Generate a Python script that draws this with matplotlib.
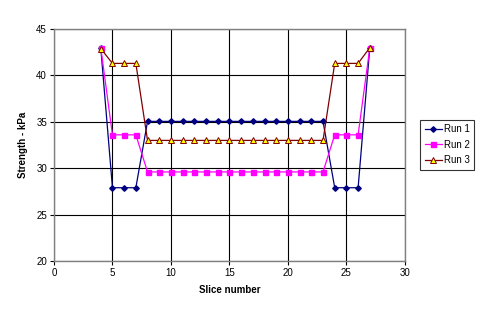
import matplotlib
matplotlib.use("Agg")
import matplotlib.pyplot as plt

plt.rcParams['font.family'] = ['Liberation Sans', 'DejaVu Sans']

x = [4, 5, 6, 7, 8, 9, 10, 11, 12, 13, 14, 15, 16, 17, 18, 19, 20, 21, 22, 23, 24, 25, 26, 27]
run1 = [43.0] + [27.9]*3 + [35.05]*16 + [27.9]*3 + [43.0]
run2 = [43.0] + [33.6]*3 + [29.6]*16 + [33.6]*3 + [43.0]
run3 = [42.9] + [41.3]*3 + [33.0]*16 + [41.3]*3 + [43.0]

fig = plt.figure(figsize=(4.95, 3.16), dpi=100)
ax = fig.add_axes([0.109, 0.174, 0.709, 0.734])

ax.plot(x, run1, color='#000080', lw=0.9, marker='D', ms=2.8, mfc='#000080', mec='#000080', label='Run 1', zorder=3)
ax.plot(x, run2, color='#FF00FF', lw=0.9, marker='s', ms=3.6, mfc='#FF00FF', mec='#FF00FF', label='Run 2', zorder=4)
ax.plot(x, run3, color='#800000', lw=0.9, marker='^', ms=3.8, mfc='#FFFF00', mec='#800000', mew=0.7, label='Run 3', zorder=5)

ax.set_xlim(0, 30)
ax.set_ylim(20, 45)
ax.set_xticks(range(0, 31, 5))
ax.set_yticks(range(20, 46, 5))
ax.grid(True, color='black', lw=0.8)
ax.set_axisbelow(True)
for s in ax.spines.values():
    s.set_color('#808080')
    s.set_linewidth(1.0)
ax.tick_params(labelsize=7, length=3, width=0.8, color='black', pad=2)
ax.set_xlabel('Slice number', fontsize=7, fontweight='bold', labelpad=5)
ax.set_ylabel('Strength - kPa', fontsize=7, fontweight='bold', labelpad=6)

leg = ax.legend(loc='upper left', bbox_to_anchor=(0.849, 0.620), bbox_transform=fig.transFigure,
                fontsize=7, frameon=True, fancybox=False, borderpad=0.45, handlelength=1.8,
                handletextpad=0.15, labelspacing=0.55, borderaxespad=0)
leg.get_frame().set_edgecolor('black')
leg.get_frame().set_linewidth(0.8)

fig.savefig('out.png', dpi=100)
